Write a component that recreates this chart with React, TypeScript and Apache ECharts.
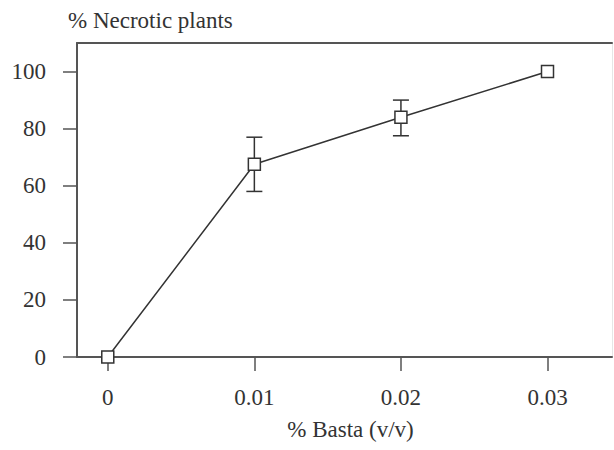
import React, { useEffect, useRef } from "react";
import * as echarts from "echarts";

const basta = [0, 0.01, 0.02, 0.03];
const necrotic = [0, 67.5, 84, 100];
const errLow = [null, 58, 77.5, null];
const errHigh = [null, 77, 90, null];
const xTicks = [0, 0.01, 0.02, 0.03];
const yTicks = [0, 20, 40, 60, 80, 100];

const FONT = "'Liberation Serif', 'Times New Roman', serif";
const TXT = "#333";
const AX = "#555";
const FS = 23;

export default function App() {
  const ref = useRef<HTMLDivElement>(null);
  useEffect(() => {
    if (!ref.current) return;
    const chart = echarts.init(ref.current, null, { renderer: "svg" });
    const errData = basta
      .map((x, i) => (errLow[i] != null ? [x, errLow[i], errHigh[i]] : null))
      .filter((d) => d !== null);
    chart.setOption({
      animation: false,
      backgroundColor: "#fff",
      grid: { left: 77, top: 43, right: 2, bottom: 93 },
      xAxis: [
        {
          type: "value",
          position: "bottom",
          min: -0.0021,
          max: 0.0344,
          name: "% Basta (v/v)",
          nameLocation: "middle",
          nameGap: 61,
          nameTextStyle: { fontFamily: FONT, fontSize: FS, color: TXT, padding: [0, 0, 0, 12] },
          axisLine: { show: true, onZero: false, lineStyle: { color: AX, width: 2 } },
          axisTick: { show: true, length: 14, customValues: xTicks, lineStyle: { color: AX, width: 1.5 } },
          axisLabel: {
            customValues: xTicks,
            margin: 29,
            fontFamily: FONT,
            fontSize: FS,
            color: TXT,
            formatter: (v: number) => String(Number(v.toFixed(4))),
          },
          splitLine: { show: false },
        },
        {
          type: "value",
          position: "top",
          min: -0.0021,
          max: 0.0344,
          axisLine: { show: true, onZero: false, lineStyle: { color: AX, width: 2 } },
          axisTick: { show: false },
          axisLabel: { show: false },
          splitLine: { show: false },
        },
      ],
      yAxis: [
        {
          type: "value",
          position: "left",
          min: 0,
          max: 110,
          name: "% Necrotic plants",
          nameLocation: "end",
          nameGap: 11,
          nameTextStyle: { fontFamily: FONT, fontSize: FS, color: TXT, align: "left", padding: [0, 0, 0, -9] },
          axisLine: { show: true, onZero: false, lineStyle: { color: AX, width: 2 } },
          axisTick: { show: true, length: 14, customValues: yTicks, lineStyle: { color: AX, width: 1.5 } },
          axisLabel: { customValues: yTicks, margin: 31, fontFamily: FONT, fontSize: FS, color: TXT },
          splitLine: { show: false },
        },
        {
          type: "value",
          position: "right",
          min: 0,
          max: 110,
          axisLine: { show: true, onZero: false, lineStyle: { color: "#e6e6e6", width: 1 } },
          axisTick: { show: false },
          axisLabel: { show: false },
          splitLine: { show: false },
        },
      ],
      series: [
        {
          type: "custom",
          data: errData,
          z: 3,
          renderItem: (params: any, api: any) => {
            const x = api.value(0);
            const lo = api.coord([x, api.value(1)]);
            const hi = api.coord([x, api.value(2)]);
            const w = 8;
            const style = { stroke: "#333", lineWidth: 1.5 };
            return {
              type: "group",
              children: [
                { type: "line", shape: { x1: lo[0], y1: lo[1], x2: hi[0], y2: hi[1] }, style },
                { type: "line", shape: { x1: lo[0] - w, y1: lo[1], x2: lo[0] + w, y2: lo[1] }, style },
                { type: "line", shape: { x1: hi[0] - w, y1: hi[1], x2: hi[0] + w, y2: hi[1] }, style },
              ],
            };
          },
        },
        {
          type: "line",
          data: basta.map((x, i) => [x, necrotic[i]]),
          z: 5,
          symbol: "rect",
          symbolSize: 12,
          showAllSymbol: true,
          lineStyle: { color: "#333", width: 1.5 },
          itemStyle: { color: "#fff", borderColor: "#333", borderWidth: 1.5 },
        },
      ],
    });
    return () => chart.dispose();
  }, []);
  return <div ref={ref} style={{ width: 614, height: 450, position: "absolute", left: 0, top: 0 }} />;
}
